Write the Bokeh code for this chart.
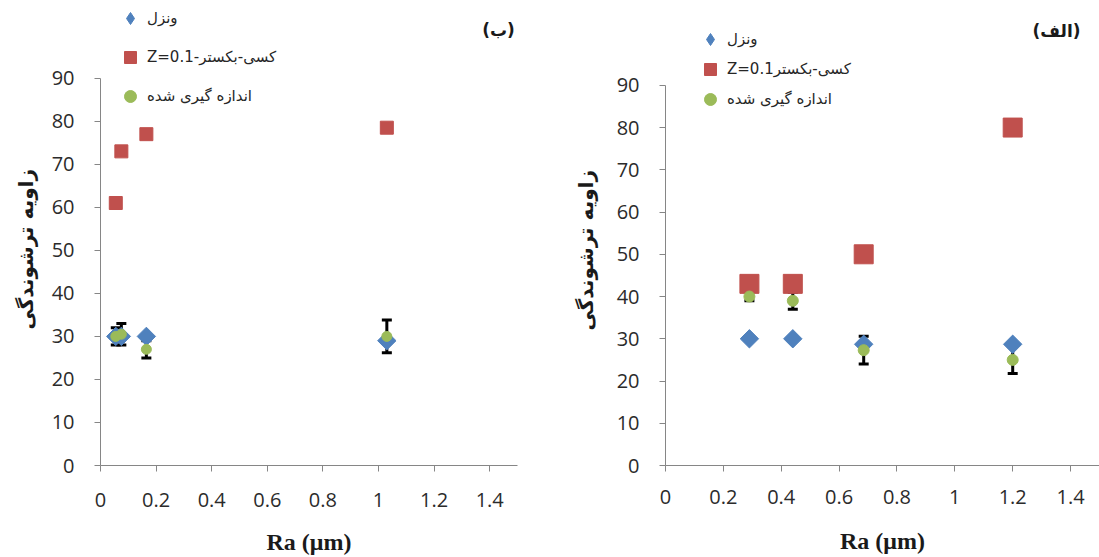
from bokeh.plotting import figure
from bokeh.layouts import row
from bokeh.models import (ColumnDataSource, Whisker, TeeHead, FixedTicker, Legend,
                          LegendItem, Label, CustomJSTickFormatter, Title)
from bokeh.embed import file_html
from bokeh.resources import INLINE
import math

# ---------------- data ----------------
# panel (ب)
ra_b = [0.055, 0.075, 0.165, 1.03]
wenzel_b = [30, 30, 30, 29]
cassie_b = [61, 73, 77, 78.5]
measured_b = [30, 30.5, 27, 30]
err_b = [2, 2.5, 2, 3.8]

# panel (الف)
ra_a = [0.29, 0.44, 0.685, 1.2]
wenzel_a = [30, 30, 28.7, 28.7]
cassie_a = [43, 43, 50, 80]
measured_a = [40, 39, 27.3, 25]
err_a = [1, 2, 3.3, 3.2]

x_ticks = [0, 0.2, 0.4, 0.6, 0.8, 1.0, 1.2, 1.4]
y_ticks = [0, 10, 20, 30, 40, 50, 60, 70, 80, 90]

label_wenzel = "ونزل"
label_cassie_b = "Z=0.1-کسی-بکستر"
label_cassie_a = "Z=0.1کسی-بکستر"
label_measured = "اندازه گیری شده"
y_title = "زاویه ترشوندگی"
x_title = "Ra (μm)"
panel_b = "(ب)"
panel_a = "(الف)"

BLUE = "#4F81BD"
RED = "#C0504D"
GREEN = "#9BBB59"
AXIS = "#868686"
TICK_TXT = "#2b2b2b"
AR_FONT = "DejaVu Sans"
H = 557


def make_panel(ra, wen, cas, mea, err, cas_label, tag, width, x_end, y_end,
               mb_left, mb_right, mb_bottom, dsize, ssize, csize,
               leg_loc, leg_spacing, tag_xy, xlab_standoff, xtitle_standoff,
               ytitle_offset, ytitle_standoff):
    p = figure(width=width, height=H, x_range=(0, x_end), y_range=(0, y_end),
               output_backend="svg", toolbar_location=None,
               min_border_left=mb_left, min_border_right=mb_right,
               min_border_top=0, min_border_bottom=mb_bottom)
    p.outline_line_color = None
    p.xgrid.visible = False
    p.ygrid.visible = False
    p.background_fill_color = "white"
    p.border_fill_color = "white"

    src = ColumnDataSource(dict(
        x=ra, wen=wen, cas=cas, mea=mea,
        upper=[m + e for m, e in zip(mea, err)],
        lower=[m - e for m, e in zip(mea, err)],
    ))

    wh = Whisker(base="x", upper="upper", lower="lower", source=src,
                 dimension="height", line_color="black", line_width=3,
                 upper_head=TeeHead(size=10, line_width=3, line_color="black"),
                 lower_head=TeeHead(size=10, line_width=3, line_color="black"),
                 level="underlay")
    p.add_layout(wh)

    p.scatter("x", "wen", source=src, marker="square", angle=math.pi / 4,
              size=dsize, fill_color=BLUE, line_color=BLUE)
    r_sq = p.scatter("x", "cas", source=src, marker="square", size=ssize,
                     fill_color=RED, line_color=RED)
    r_ci = p.scatter("x", "mea", source=src, marker="circle", size=csize,
                     fill_color=GREEN, line_color=GREEN)
    # hidden diamond renderer of the same series, used only for the legend glyph
    r_dm = p.scatter("x", "wen", source=src, marker="diamond", size=dsize,
                     fill_color=BLUE, line_color=BLUE, visible=False)

    legend = Legend(items=[
        LegendItem(label=label_wenzel, renderers=[r_dm]),
        LegendItem(label=cas_label, renderers=[r_sq]),
        LegendItem(label=label_measured, renderers=[r_ci]),
    ], location=leg_loc, spacing=leg_spacing, padding=0, margin=0,
        glyph_width=30, glyph_height=30, label_standoff=2,
        label_text_font=AR_FONT, label_text_font_size="15px",
        label_text_color="#262626", click_policy="none",
        inactive_fill_alpha=0,
        border_line_alpha=0, background_fill_alpha=0)
    p.add_layout(legend, "center")

    # axes
    yax = p.yaxis[0]
    yax.ticker = FixedTicker(ticks=y_ticks)
    yax.bounds = (0, 90)
    yax.axis_line_color = AXIS
    yax.major_tick_line_color = AXIS
    yax.major_tick_out = 6
    yax.major_tick_in = 0
    yax.minor_tick_line_color = None
    yax.major_label_text_font = "Open Sans"
    yax.major_label_text_font_size = "20px"
    yax.major_label_text_color = TICK_TXT
    yax.major_label_standoff = 20

    p.add_layout(Title(text=y_title, align="left", offset=ytitle_offset,
                       standoff=ytitle_standoff, text_font=AR_FONT,
                       text_font_style="bold", text_font_size="20px",
                       text_color="#1a1a1a"), "left")

    xax = p.xaxis[0]
    xax.ticker = FixedTicker(ticks=x_ticks)
    xax.formatter = CustomJSTickFormatter(code="return String(Math.round(tick*10)/10);")
    xax.axis_line_color = AXIS
    xax.major_tick_line_color = AXIS
    xax.major_tick_out = 6
    xax.major_tick_in = 0
    xax.minor_tick_line_color = None
    xax.major_label_text_font = "Open Sans"
    xax.major_label_text_font_size = "20px"
    xax.major_label_text_color = TICK_TXT
    xax.major_label_standoff = xlab_standoff
    xax.axis_label = x_title
    xax.axis_label_text_font = "Liberation Serif"
    xax.axis_label_text_font_style = "bold"
    xax.axis_label_text_font_size = "24px"
    xax.axis_label_text_color = "#1a1a1a"
    xax.axis_label_standoff = xtitle_standoff

    p.add_layout(Label(x=tag_xy[0], y=tag_xy[1], x_units="screen", y_units="screen",
                       text=tag, text_font=AR_FONT, text_font_style="bold",
                       text_font_size="17px", text_align="center",
                       text_baseline="middle", text_color="#1a1a1a"))
    return p


p_b = make_panel(ra_b, wenzel_b, cassie_b, measured_b, err_b, label_cassie_b, panel_b,
                 width=553, x_end=1.5, y_end=108.06, mb_left=100, mb_right=36,
                 mb_bottom=H - 467, dsize=13, ssize=13, csize=10,
                 leg_loc=(15, 354), leg_spacing=9, tag_xy=(398, 436),
                 xlab_standoff=21, xtitle_standoff=19, ytitle_offset=136,
                 ytitle_standoff=21)

p_a = make_panel(ra_a, wenzel_a, cassie_a, measured_a, err_a, label_cassie_a, panel_a,
                 width=546, x_end=1.5, y_end=110.08, mb_left=112, mb_right=0,
                 mb_bottom=H - 466, dsize=13, ssize=19, csize=11,
                 leg_loc=(30, 351), leg_spacing=-1, tag_xy=(391, 435),
                 xlab_standoff=18, xtitle_standoff=21, ytitle_offset=135,
                 ytitle_standoff=31)

layout = row(p_b, p_a, spacing=0)
open("out.html", "w").write(file_html(layout, INLINE))
